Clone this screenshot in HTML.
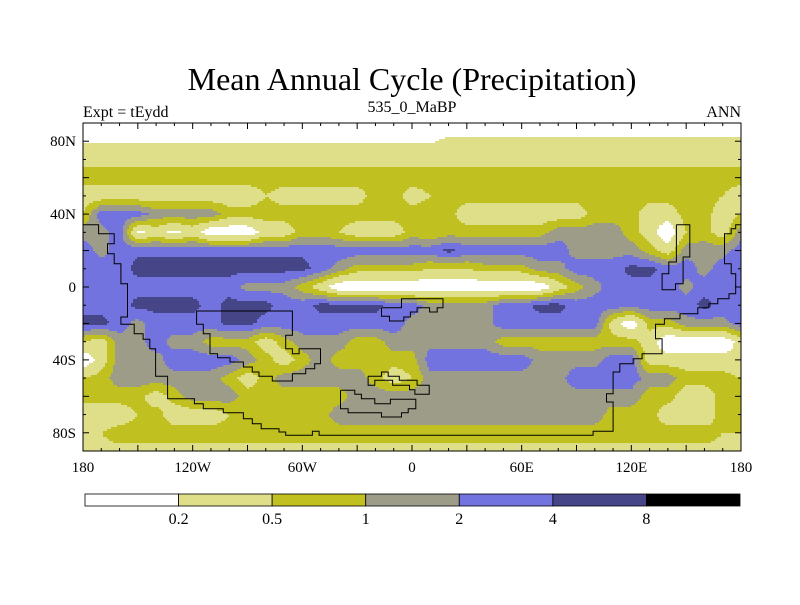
<!DOCTYPE html>
<html><head><meta charset="utf-8"><style>
body{margin:0;background:#fff;width:800px;height:600px;overflow:hidden;font-family:"Liberation Serif",serif}
svg text{font-family:"Liberation Serif",serif;fill:#000}
</style></head><body>
<svg id="chart" width="800" height="600" xmlns="http://www.w3.org/2000/svg">
<text x="412" y="90" font-size="32" text-anchor="middle">Mean Annual Cycle (Precipitation)</text>
<text x="83" y="117" font-size="16">Expt = tEydd</text>
<text x="412" y="112" font-size="16" text-anchor="middle">535_0_MaBP</text>
<text x="741" y="117" font-size="16" text-anchor="end">ANN</text>
<g id="cells"></g>
<g id="coast"></g>
<rect x="83" y="123" width="658" height="328" fill="none" stroke="#000" stroke-width="1"/>
<g id="axes"></g>
<g id="cbar"></g>
</svg>
<script>
const lonNodes=[-180,-170,-160,-150,-140,-130,-120,-110,-100,-90,-80,-70,-60,-50,-40,-30,-20,-10,0,10,20,30,40,50,60,70,80,90,100,110,120,130,140,150,160,170,180];
const latNodes=[90,80,70,60,50,40,30,20,10,0,-10,-20,-30,-40,-50,-60,-70,-80,-90];
const precip=[
[.1,.1,.1,.1,.1,.1,.1,.1,.1,.1,.1,.1,.1,.1,.1,.1,.1,.1,.1,.1,.1,.1,.1,.1,.1,.1,.1,.1,.1,.1,.1,.1,.1,.1,.1,.1,.1],
[.18,.18,.18,.18,.18,.18,.18,.18,.18,.18,.18,.18,.18,.18,.18,.18,.18,.18,.18,.18,.25,.25,.25,.25,.25,.25,.25,.25,.25,.25,.25,.25,.25,.25,.25,.25,.25],
[.4,.4,.4,.4,.4,.4,.4,.4,.4,.4,.4,.4,.4,.4,.4,.4,.4,.4,.4,.4,.4,.4,.4,.4,.4,.4,.4,.4,.4,.4,.4,.4,.4,.4,.4,.4,.4],
[.7,.7,.7,.7,.7,.7,.7,.7,.7,.7,.7,.7,.7,.7,.7,.7,.7,.7,.7,.7,.7,.7,.7,.7,.7,.7,.7,.7,.7,.7,.7,.7,.7,.7,.7,.7,.7],
[.3,.3,.3,.3,.3,.3,.3,.3,.3,.3,.5,.35,.35,.35,.35,.35,.7,.7,.35,.5,.7,.7,.7,.7,.7,.7,.7,.7,.7,.7,.7,.7,.7,.7,.7,.5,.3],
[.5,3,3,3,1.5,1.5,1.5,1.5,.7,.7,.7,.7,.7,.7,.7,.7,.7,.7,.7,.7,.7,.3,.3,.3,.3,.3,.3,.3,.7,.7,.7,.3,.3,.7,.7,.3,.5],
[1.5,1.5,3,.15,.3,.15,.3,.1,.1,.1,.3,.3,.7,.7,.5,.3,.3,.3,.7,.5,.7,.7,.7,.7,.7,.7,1.5,1.5,1.5,1.5,.7,.3,.1,.5,.7,.3,1.5],
[3,1.5,3,3.5,3.5,3.5,3.5,3.5,3.5,3.5,3.5,3.5,3.5,3.5,3,3,3,3,3,3,5,3,3,3,3,3,3,1.5,1.5,1.5,1.5,.7,.3,1.5,1.5,1.5,3],
[3,3,3,5,5,5,5,5,5,5,5,5,5,3,1.5,.7,.7,.7,.7,.5,.5,.5,.7,.7,.7,1.5,1.5,3,3,3,5,5,3,3,1.5,3,3],
[3,3,3,3,3,3,3,3,3,1.5,1.5,1.5,.7,.3,.1,.1,.1,.1,.1,.1,.1,.1,.1,.1,.1,.1,.3,.7,1.5,3,3,3,3,1.5,3,3,3],
[3,3,3,5,5,5,5,3,5,5,5,3,3,5,5,5,5,3,3,1.5,1.5,1.5,1.5,3,3,5,5,3,3,3,3,3,3,3,5,3,3],
[5,5,3,1.5,3,3,3,3,5,5,3,3,3,3,3,3,3,3,1.5,1.5,1.5,1.5,1.5,3,3,3,3,3,3,.3,.1,.7,.7,1.5,1.5,1.5,3],
[.5,.3,1.5,1.5,3,1.5,1.5,.7,.7,.7,.3,.7,1.5,1.5,1.5,.7,.7,1.5,1.5,1.5,1.5,1.5,1.5,.7,.7,.7,.7,.7,.7,.7,.7,.3,.1,.1,.1,.1,.3],
[.1,.3,1.5,1.5,1.5,3,3,3,3,1.5,.7,.3,.7,1.5,.7,.7,.7,.7,.7,3,3,3,3,3,3,1.5,1.5,1.5,1.5,3,3,.3,.3,.3,.3,.3,.2],
[.5,.7,1.5,1.5,1.5,1.5,1.5,1.5,.7,.3,.7,1.5,1.5,1.5,1.5,1.5,.7,.3,.5,1.5,1.5,1.5,1.5,1.5,1.5,1.5,1.5,3,3,3,3,1.5,1.5,.7,.7,.7,.5],
[.7,.7,.7,.7,.3,.7,1.5,1.5,1.5,.7,.7,.7,.7,.7,.7,1.5,1.5,1.5,1.5,1.5,1.5,1.5,1.5,1.5,1.5,1.5,1.5,1.5,1.5,1.5,1.5,.7,.7,.3,.3,.7,.7],
[.3,.3,.3,.5,.7,.3,.3,.3,.5,.7,.7,.7,.7,.7,1.5,1.5,1.5,1.5,1.5,1.5,1.5,1.5,1.5,1.5,1.5,1.5,1.5,1.5,1.5,.7,.7,.7,.3,.3,.3,.7,.5],
[.5,.5,.7,.7,.7,.7,.7,.7,.7,.7,.7,.7,.7,.7,.7,.7,.7,.7,.7,.7,.7,.7,.7,.7,.7,.7,.7,.7,.7,.7,.7,.7,.7,.7,.7,.5,.5],
[.4,.4,.4,.4,.4,.4,.4,.4,.4,.4,.4,.4,.4,.4,.4,.4,.4,.4,.4,.4,.4,.4,.4,.4,.4,.4,.4,.4,.4,.4,.4,.4,.4,.4,.4,.4,.4]
];
const levels=[0.2,0.5,1,2,4,8];
const levelLabels=["0.2","0.5","1","2","4","8"];
const xTickLabels=["180","120W","60W","0","60E","120E","180"];
const xTickLons=[-180,-120,-60,0,60,120,180];
const yTickLabels=["80N","40N","0","40S","80S"];
const yTickLats=[80,40,0,-40,-80];
const colors=["#ffffff","#dfdf8a","#c0c020","#9c9c88","#7373e0","#454588","#000000"];
const NS="http://www.w3.org/2000/svg";
const X0=83,W=658,Y0=123,H=328;
const xs=lon=>X0+(lon+180)/360*W;
const ys=lat=>Y0+(90-lat)/180*H;
function val(lon,lat){
  const fi=(lon-lonNodes[0])/10, fj=(latNodes[0]-lat)/10;
  let i=Math.min(Math.max(Math.floor(fi),0),lonNodes.length-2), j=Math.min(Math.max(Math.floor(fj),0),latNodes.length-2);
  const tx=fi-i, ty=fj-j;
  const L=v=>Math.log(v);
  const a=L(precip[j][i]),b=L(precip[j][i+1]),c=L(precip[j+1][i]),d=L(precip[j+1][i+1]);
  return Math.exp(a*(1-tx)*(1-ty)+b*tx*(1-ty)+c*(1-tx)*ty+d*tx*ty);
}
function cls(v){let k=0;while(k<levels.length&&v>=levels[k])k++;return k;}
const cells=document.getElementById('cells');
const step=2;
for(let py=0;py<H;py+=step){
  const lat=90-(py+step/2)/H*180;
  let start=0,cur=-1;
  for(let px=0;px<=W;px+=step){
    const k=px<W?cls(val(-180+(px+step/2)/W*360,lat)):-2;
    if(k!==cur){
      if(cur>=0){
        const r=document.createElementNS(NS,'rect');
        
        
        r.setAttribute('x',X0+start);r.setAttribute('y',Y0+py);
        r.setAttribute('width',Math.min(px,W)-start);r.setAttribute('height',step);
        r.setAttribute('fill',colors[cur]);cells.appendChild(r);
      }
      start=px;cur=k;
    }
  }
}
const coastShapes=[
[[50,373],[85,373],[85,400],[120,400],[120,430],[105,430],[105,460],[120,460],[120,490],[135,490],[135,550],[150,550],[150,650],[135,650],[135,672],[165,672],[165,700],[185,700],[185,717],[200,717],[200,745],[213,745],[213,828],[240,828],[240,895],[300,895],[300,910],[320,910],[320,925],[365,925],[365,937],[410,937],[410,955],[430,955],[430,970],[450,970],[450,985],[490,985],[490,995],[505,995],[505,1005],[565,1005],[565,993],[580,993],[580,1005],[1195,1005],[1195,993],[1240,993],[1240,905],[1225,905],[1225,880],[1240,880],[1240,815],[1255,815],[1255,790],[1285,790],[1285,775],[1305,775],[1305,760],[1350,760],[1350,715],[1335,715],[1335,672],[1355,672],[1355,655],[1390,655],[1390,640],[1430,640],[1430,622],[1455,622],[1455,610],[1475,610],[1475,595],[1500,595],[1500,580],[1515,580],[1515,520],[1505,520],[1505,490],[1490,490],[1490,400],[1505,400],[1505,385],[1515,385],[1515,373],[1527,373]],
[[305,632],[520,632],[520,705],[505,705],[505,745],[520,745],[520,760],[535,760],[535,745],[583,745],[583,790],[570,790],[570,805],[550,805],[550,820],[520,820],[520,842],[475,842],[475,828],[445,828],[445,815],[430,815],[430,800],[410,800],[410,785],[380,785],[380,772],[352,772],[352,760],[335,760],[335,700],[320,700],[320,672],[305,672],[305,632]],
[[720,622],[765,622],[765,595],[858,595],[858,622],[845,622],[845,635],[828,635],[828,622],[800,622],[800,635],[785,635],[785,650],[770,650],[770,662],[738,662],[738,648],[720,648],[720,622]],
[[690,828],[720,828],[720,815],[735,815],[735,828],[760,828],[760,840],[800,840],[800,855],[827,855],[827,882],[795,882],[795,868],[783,868],[783,855],[745,855],[745,840],[705,840],[705,855],[690,855],[690,828]],
[[628,870],[660,870],[660,882],[675,882],[675,895],[705,895],[705,910],[740,910],[740,897],[797,897],[797,925],[780,925],[780,937],[765,937],[765,950],[720,950],[720,937],[645,937],[645,925],[628,925],[628,870]],
[[1382,373],[1412,373],[1412,470],[1397,470],[1397,550],[1380,550],[1380,568],[1350,568],[1350,520],[1365,520],[1365,485],[1382,485],[1382,373]]
];
const coast=document.getElementById('coast');
coastShapes.forEach(s=>{
  const p=document.createElementNS(NS,'polyline');
  
  
  p.setAttribute('points',s.map(q=>{const lon=(q[0]-50)/1477*360-180,lat=90-(q[1]-68)/984*180;return xs(lon).toFixed(1)+','+ys(lat).toFixed(1);}).join(' '));
  p.setAttribute('fill','none');p.setAttribute('stroke','#000');p.setAttribute('stroke-width','1');
  coast.appendChild(p);
});
const axes=document.getElementById('axes');
function add(parent,tag,attrs,text){const e=document.createElementNS(NS,tag);for(const k in attrs)e.setAttribute(k,attrs[k]);if(text!==undefined)e.textContent=text;parent.appendChild(e);return e;}
for(let lon=-180;lon<=180;lon+=10){
  const len=lon%30===0?6:3;
  const t1=add(axes,'line',{x1:xs(lon),x2:xs(lon),y1:Y0,y2:Y0+len,stroke:'#000'});
  
  
  const t2=add(axes,'line',{x1:xs(lon),x2:xs(lon),y1:Y0+H,y2:Y0+H-len,stroke:'#000'});
  
  
}
for(let lat=-90;lat<=90;lat+=10){
  const len=lat%20===0?6:3;
  const t1=add(axes,'line',{x1:X0,x2:X0+len,y1:ys(lat),y2:ys(lat),stroke:'#000'});
  
  
  const t2=add(axes,'line',{x1:X0+W,x2:X0+W-len,y1:ys(lat),y2:ys(lat),stroke:'#000'});
  
  
}
xTickLabels.forEach((s,i)=>{
  const t=add(axes,'text',{x:xs(xTickLons[i]),y:472,'font-size':15,'text-anchor':'middle'},s);
  
  
});
yTickLabels.forEach((s,i)=>{
  const t=add(axes,'text',{x:76,y:ys(yTickLats[i])+5,'font-size':15,'text-anchor':'end'},s);
  
  
});
const cbar=document.getElementById('cbar');
const cbX=85,cbW=655,cbY=494,cbH=12,bw=cbW/colors.length;
colors.forEach((c,i)=>{
  const r=add(cbar,'rect',{x:cbX+i*bw,y:cbY,width:bw,height:cbH,fill:c,stroke:'#000','stroke-width':0.8});
  
  
});
levelLabels.forEach((s,i)=>{
  const t=add(cbar,'text',{x:cbX+(i+1)*bw,y:524,'font-size':16,'text-anchor':'middle'},s);
  
  
});
</script>
</body></html>
